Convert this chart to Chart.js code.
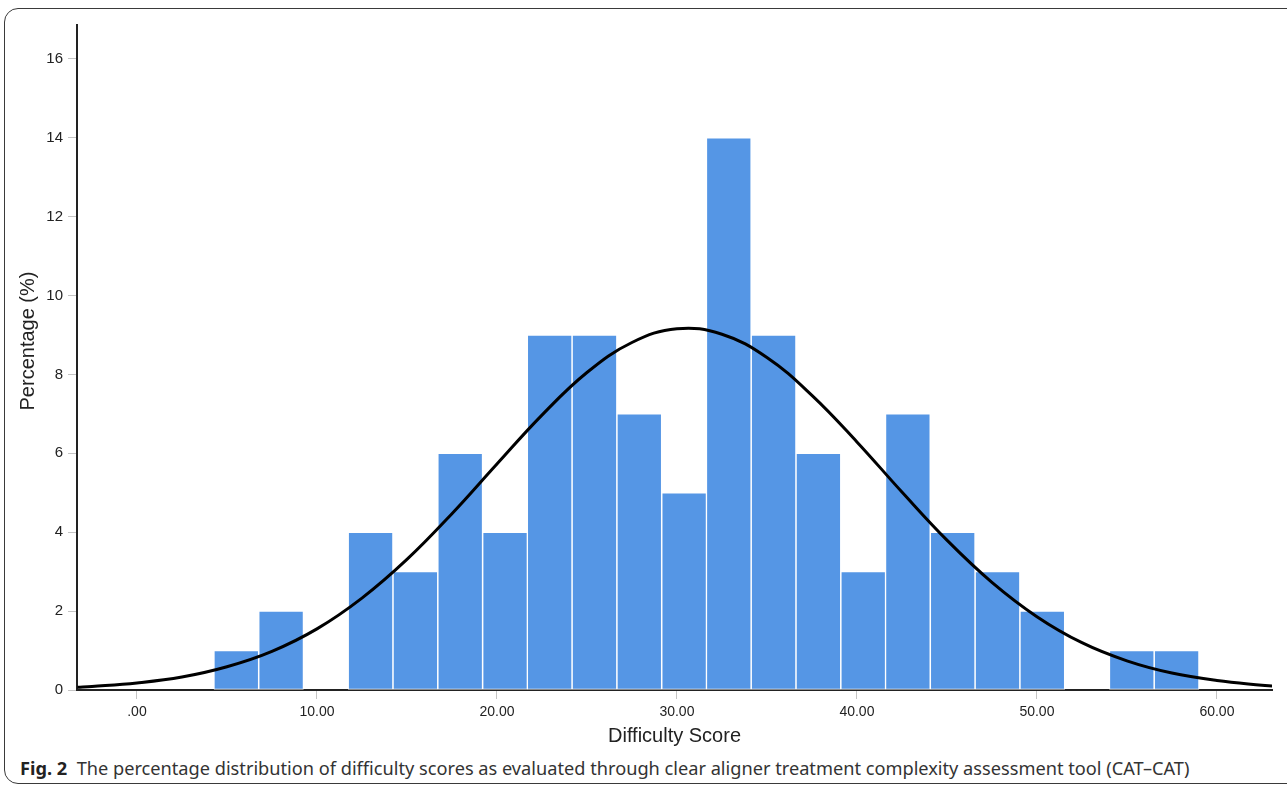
<!DOCTYPE html>
<html>
<head>
<meta charset="utf-8">
<script src="https://cdn.jsdelivr.net/npm/chart.js@4.4.1/dist/chart.umd.min.js"></script>
<style>
  body { margin: 0; background: #fff; width: 1287px; height: 787px; overflow: hidden; position: relative; }
  #frame { position: absolute; left: 4px; top: 8px; width: 1300px; height: 776px; border: 1px solid #3a3a3a; border-radius: 14px; box-sizing: border-box; }
  #c { position: absolute; left: 0; top: 0; }
  #cap { position: absolute; left: 20px; top: 756px; font-family: "Noto Sans", sans-serif; font-size: 18.2px; line-height: 24px; color: #333; white-space: nowrap; }
  #cap b { color: #222; }
</style>
</head>
<body>
<div id="frame"></div>
<canvas id="c" width="1287" height="752"></canvas>
<div id="cap"><b>Fig. 2</b>&nbsp; The percentage distribution of difficulty scores as evaluated through clear aligner treatment complexity assessment tool (CAT–CAT)</div>
<script>
// histogram bins (centre of each bin) and percentages
const binCenters = [5.52, 8.01, 10.50, 12.98, 15.47, 17.96, 20.45, 22.93, 25.42, 27.91, 30.40,
                    32.88, 35.37, 37.86, 40.35, 42.83, 45.32, 47.81, 50.30, 52.78, 55.27, 57.76];
const percentages = [1, 2, 0, 4, 3, 6, 4, 9, 9, 7, 5, 14, 9, 6, 3, 7, 4, 3, 2, 0, 1, 1];

// normal curve
const curveX = [-3.3, -2.5, 0, 2.5, 5, 7.5, 10, 12.5, 15, 17.5, 20, 22.5, 25, 27.5, 30,
                32.5, 35, 37.5, 40, 42.5, 45, 47.5, 50, 52.5, 55, 57.5, 60, 62.5, 63.1];
const curveY = [0.07, 0.09, 0.18, 0.33, 0.59, 0.98, 1.55, 2.33, 3.31, 4.47, 5.73, 6.97, 8.05, 8.81, 9.16,
                9.02, 8.43, 7.47, 6.29, 5.02, 3.80, 2.73, 1.86, 1.20, 0.74, 0.43, 0.24, 0.12, 0.10];

const xTicks = [0, 10, 20, 30, 40, 50, 60];
const yTicks = [0, 2, 4, 6, 8, 10, 12, 14, 16];

const yTitle = {
  id: 'yTitle',
  afterDraw(chart) {
    const ctx = chart.ctx;
    ctx.save();
    ctx.translate(28, 341);
    ctx.rotate(-Math.PI / 2);
    ctx.font = '20px "Liberation Sans"';
    ctx.fillStyle = '#222';
    ctx.textAlign = 'center';
    ctx.textBaseline = 'middle';
    ctx.fillText('Percentage (%)', 0, 0);
    ctx.restore();
  }
};

new Chart(document.getElementById('c'), {
  type: 'bar',
  data: {
    datasets: [
      {
        type: 'line',
        data: curveX.map((x, i) => ({ x, y: curveY[i] })),
        borderColor: '#000',
        borderWidth: 3,
        pointRadius: 0,
        tension: 0.4,
        fill: false,
        order: 0
      },
      {
        data: binCenters.map((x, i) => ({ x, y: percentages[i] })),
        backgroundColor: '#5596E5',
        borderColor: 'rgba(255,255,255,0.85)',
        borderWidth: 1,
        borderSkipped: false,
        barPercentage: 1,
        categoryPercentage: 1,
        order: 1
      }
    ]
  },
  options: {
    responsive: false,
    animation: false,
    layout: { padding: { top: 25, right: 15, left: 0, bottom: 0 } },
    plugins: { legend: { display: false }, tooltip: { enabled: false } },
    scales: {
      x: {
        type: 'linear',
        min: -3.33,
        max: 63.06,
        offset: false,
        afterFit: s => { s.height = 62; },
        afterBuildTicks: s => { s.ticks = xTicks.map(v => ({ value: v })); },
        grid: { offset: false, drawOnChartArea: false, tickLength: 9, color: '#c4c4c4' },
        border: { color: '#222', width: 2 },
        ticks: {
          autoSkip: false, maxRotation: 0, padding: 5, color: '#222',
          font: { family: 'Liberation Sans', size: 14 },
          callback: v => v === 0 ? '.00' : v.toFixed(2)
        },
        title: {
          display: true, text: 'Difficulty Score', color: '#222',
          font: { family: 'Liberation Sans', size: 20 },
          padding: { top: 0, bottom: 4 }
        }
      },
      y: {
        min: 0,
        max: 16.86,
        afterFit: s => { s.width = 77; },
        afterBuildTicks: s => { s.ticks = yTicks.map(v => ({ value: v })); },
        grid: { drawOnChartArea: false, tickLength: 9, color: '#c4c4c4' },
        border: { color: '#222', width: 2 },
        ticks: {
          padding: 5, color: '#222',
          font: { family: 'Liberation Sans', size: 15 }
        }
      }
    }
  },
  plugins: [yTitle]
});
</script>
</body>
</html>
